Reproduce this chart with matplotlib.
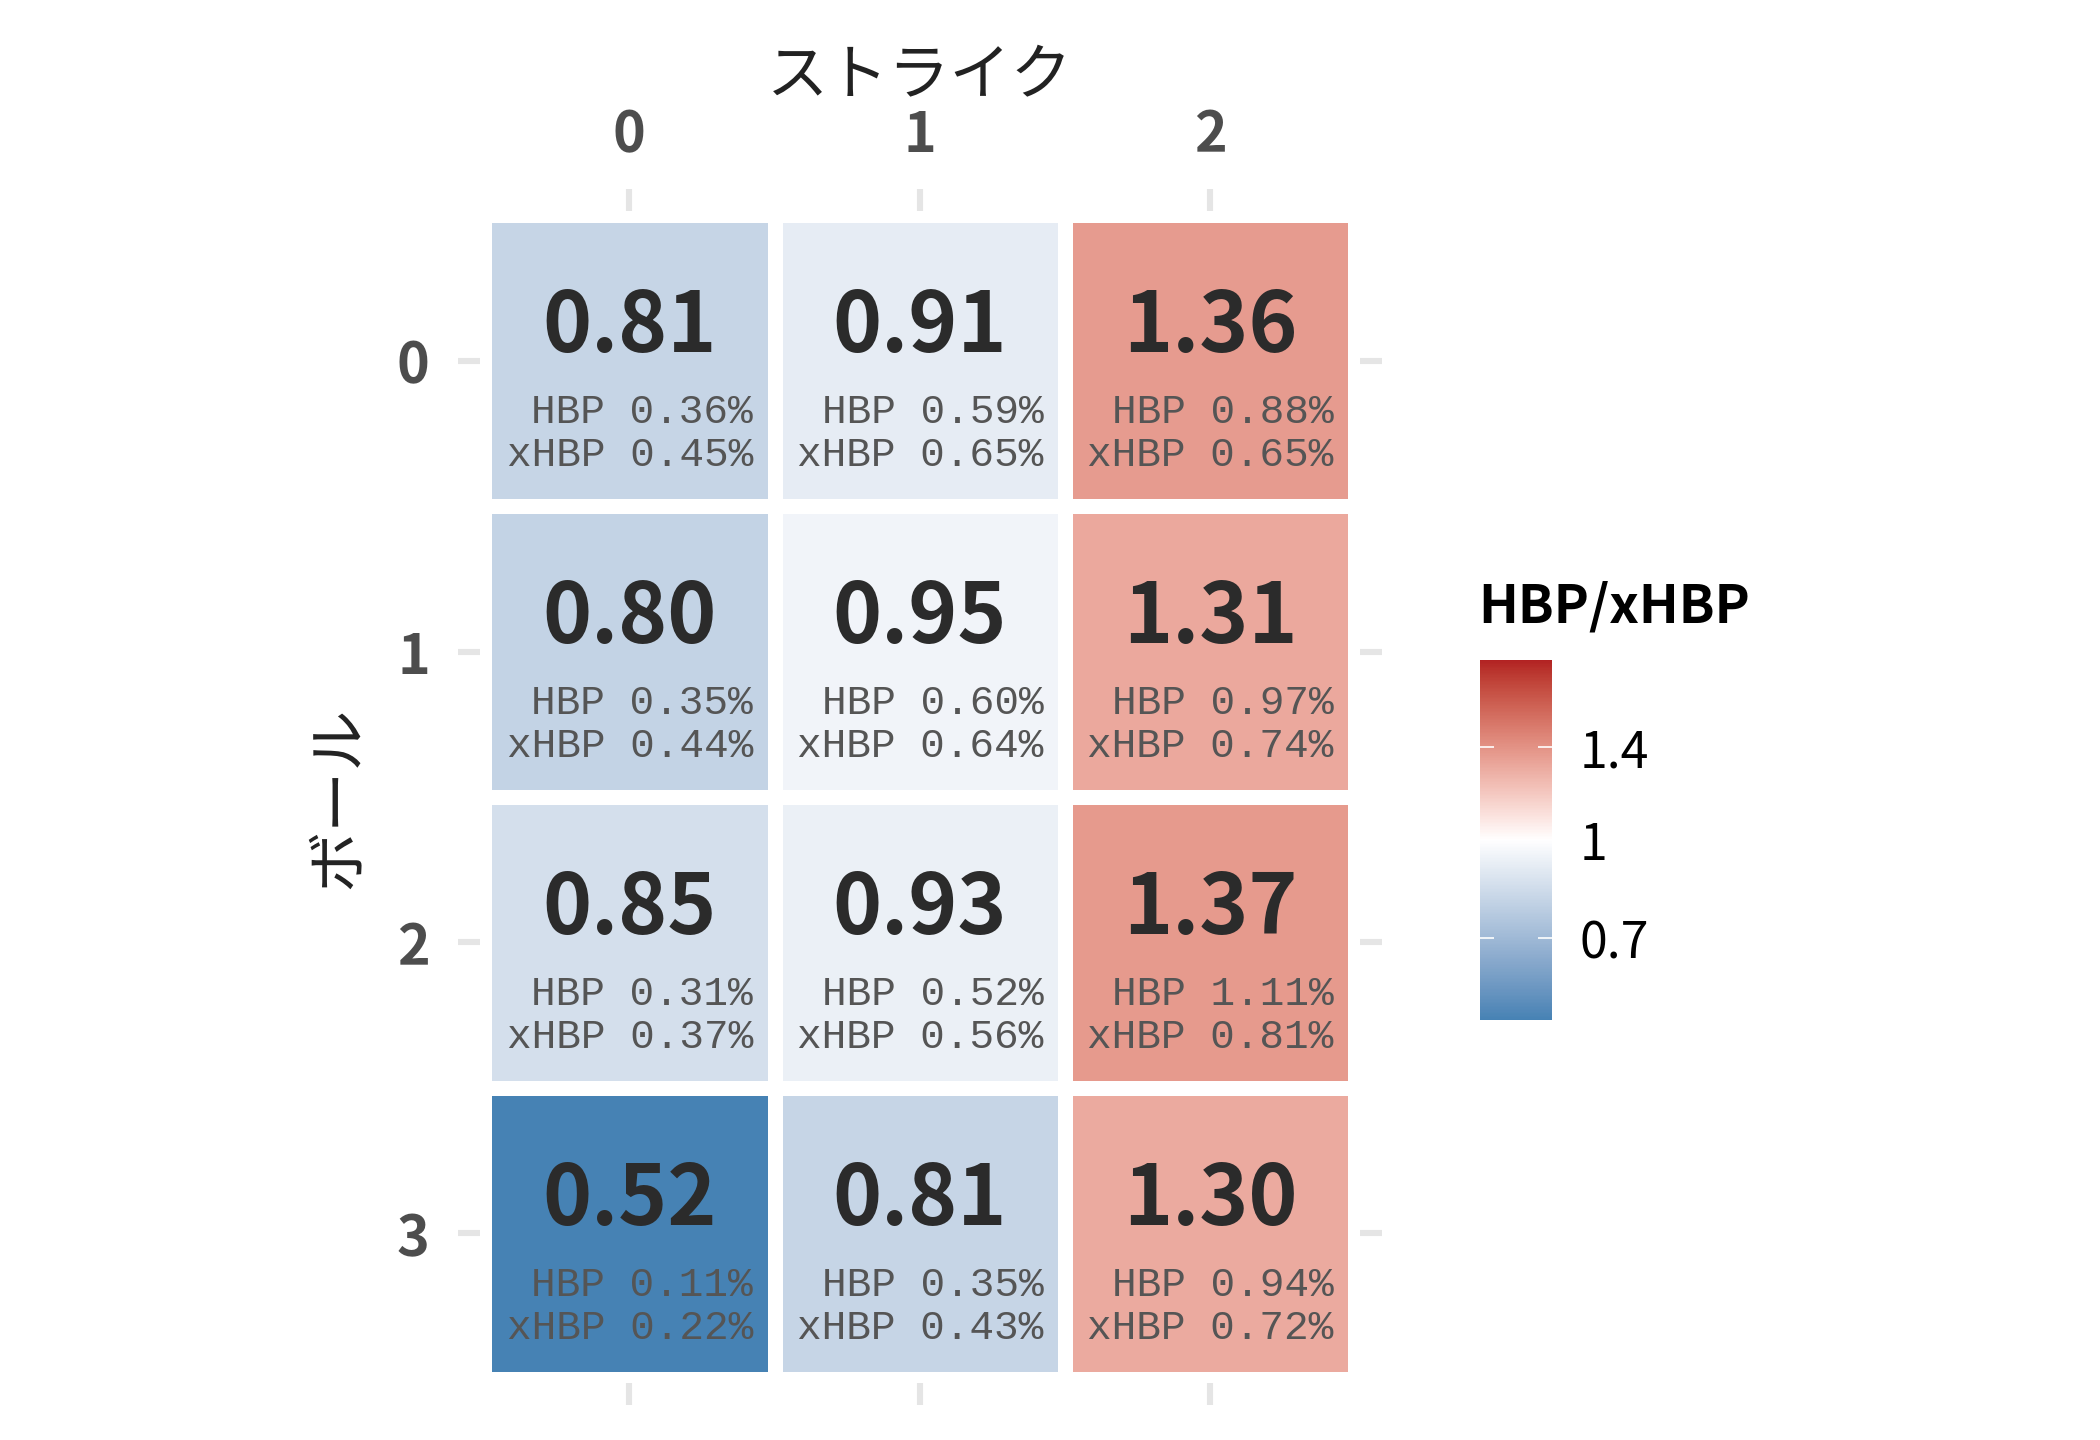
import numpy as np
import matplotlib
matplotlib.use("Agg")
import matplotlib.pyplot as plt
from matplotlib.colors import ListedColormap, LogNorm, to_rgb

# rows = balls (0-3), cols = strikes (0-2)
balls = ["0", "1", "2", "3"]
strikes = ["0", "1", "2"]
ratio = np.array([
    [0.81, 0.91, 1.36],
    [0.80, 0.95, 1.31],
    [0.85, 0.93, 1.37],
    [0.52, 0.81, 1.30],
])
hbp_pct = np.array([
    [0.36, 0.59, 0.88],
    [0.35, 0.60, 0.97],
    [0.31, 0.52, 1.11],
    [0.11, 0.35, 0.94],
])
xhbp_pct = np.array([
    [0.45, 0.65, 0.65],
    [0.44, 0.64, 0.74],
    [0.37, 0.56, 0.81],
    [0.22, 0.43, 0.72],
])
cbar_ticks = [0.7, 1, 1.4]
cbar_labels = ["0.7", "1", "1.4"]

JP = ["Noto Sans CJK JP", "DejaVu Sans"]
MONO = ["Liberation Mono", "DejaVu Sans Mono"]
plt.rcParams["font.family"] = JP


# ggplot-like gradient2 (interpolated in Lab space)
def _srgb_to_lab(rgb):
    c = np.asarray(rgb, dtype=float)
    c = np.where(c <= 0.04045, c / 12.92, ((c + 0.055) / 1.055) ** 2.4)
    m = np.array([[0.4124, 0.3576, 0.1805],
                  [0.2126, 0.7152, 0.0722],
                  [0.0193, 0.1192, 0.9505]])
    xyz = m @ c / np.array([0.95047, 1.0, 1.08883])
    f = np.where(xyz > 0.008856, np.cbrt(xyz), 7.787 * xyz + 16 / 116)
    return np.array([116 * f[1] - 16, 500 * (f[0] - f[1]), 200 * (f[1] - f[2])])


def _lab_to_srgb(lab):
    L, a, b = lab
    fy = (L + 16) / 116
    fx = fy + a / 500
    fz = fy - b / 200
    f = np.array([fx, fy, fz])
    xyz = np.where(f ** 3 > 0.008856, f ** 3, (f - 16 / 116) / 7.787)
    xyz = xyz * np.array([0.95047, 1.0, 1.08883])
    m = np.array([[3.2406, -1.5372, -0.4986],
                  [-0.9689, 1.8758, 0.0415],
                  [0.0557, -0.2040, 1.0570]])
    c = m @ xyz
    c = np.where(c <= 0.0031308, 12.92 * c, 1.055 * np.clip(c, 0, None) ** (1 / 2.4) - 0.055)
    return np.clip(c, 0, 1)


low, mid, high = (_srgb_to_lab(to_rgb(c)) for c in ("steelblue", "white", "firebrick"))
colors = []
for t in np.linspace(0, 1, 256):
    if t < 0.5:
        lab = low + (mid - low) * (t / 0.5)
    else:
        lab = mid + (high - mid) * ((t - 0.5) / 0.5)
    colors.append(_lab_to_srgb(lab))
cmap = ListedColormap(colors)

lo = ratio.min()
norm = LogNorm(vmin=lo, vmax=1 / lo)

fig = plt.figure(figsize=(10.5, 7.2), dpi=200)
ax = fig.add_axes([0.2285, 0.0395, 0.419, 0.814])

mesh = ax.pcolormesh(np.arange(len(strikes) + 1) - 0.5,
                     np.arange(len(balls) + 1) - 0.5,
                     ratio, cmap=cmap, norm=norm,
                     edgecolors="white", linewidth=4.7)

for r in range(len(balls)):
    for c in range(len(strikes)):
        ax.text(c, r - 0.03, f"{ratio[r, c]:.2f}", ha="center", va="baseline",
                fontsize=30, fontweight="bold", color="#2b2b2b")
        ax.text(c + 0.425, r + 0.215, f"HBP {hbp_pct[r, c]:.2f}%", ha="right",
                va="baseline", fontsize=14.8, family=MONO, color="#555555")
        ax.text(c + 0.425, r + 0.362, f"xHBP {xhbp_pct[r, c]:.2f}%", ha="right",
                va="baseline", fontsize=14.8, family=MONO, color="#555555")

ax.set_xlim(-0.515, len(strikes) - 0.485)
ax.set_ylim(len(balls) - 0.485, -0.515)
ax.set_xticks(range(len(strikes)))
ax.set_xticklabels(strikes)
ax.set_yticks(range(len(balls)))
ax.set_yticklabels(balls)
ax.tick_params(axis="x", top=True, bottom=True, labeltop=True, labelbottom=False,
               length=8, width=2.2, color="#e5e5e5", labelsize=20,
               labelcolor="#4d4d4d", pad=9)
ax.tick_params(axis="y", left=True, right=True, labelleft=True, labelright=False,
               length=8, width=2.2, color="#e5e5e5", labelsize=20,
               labelcolor="#4d4d4d", pad=10)
for t in ax.xaxis.get_major_ticks() + ax.yaxis.get_major_ticks():
    t.label1.set_fontweight("bold")
    t.label2.set_fontweight("bold")
for s in ax.spines.values():
    s.set_visible(False)

ax.xaxis.set_label_position("top")
ax.set_xlabel("ストライク", fontsize=22, color="#222222", labelpad=5)
ax.set_ylabel("ボール", fontsize=22, color="#222222", labelpad=10)

cax = fig.add_axes([0.7048, 0.2917, 0.0343, 0.25])
cb = fig.colorbar(mesh, cax=cax, ticks=cbar_ticks)
cb.outline.set_visible(False)
cax.yaxis.set_minor_locator(matplotlib.ticker.NullLocator())
cax.set_yticks(cbar_ticks)
cax.set_yticklabels(cbar_labels)
cax.tick_params(which="major", left=True, right=True, direction="in",
                color="white", length=5, width=0.6, labelsize=18,
                labelcolor="black", pad=10)
fig.text(1478 / 2100, 1 - 622 / 1440, "HBP/xHBP", ha="left", va="baseline",
         fontsize=19, fontweight="bold", color="black")

fig.savefig("out.png", dpi=200, facecolor="white")
